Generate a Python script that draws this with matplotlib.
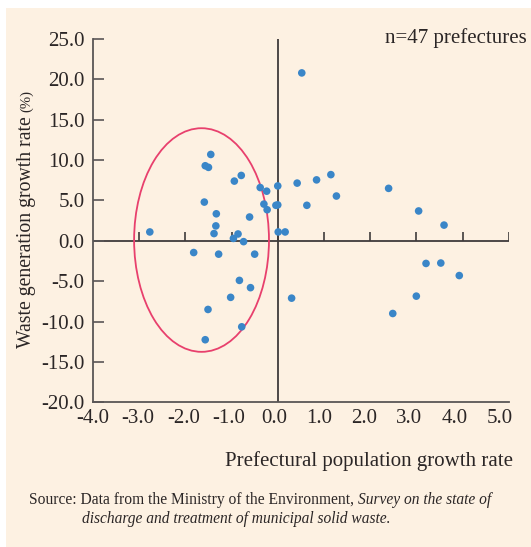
import matplotlib
matplotlib.use('Agg')
import matplotlib.pyplot as plt
import matplotlib.transforms as mtransforms
from matplotlib.patches import Ellipse, Rectangle

plt.rcParams['font.family'] = ['Liberation Serif', 'DejaVu Serif']

# data (population growth %, waste growth %)
pop = [-1.45, -1.57, -1.50, -0.79, -0.94, -0.38, -0.24, 0.00, 0.42, 0.63,
       -1.59, -1.33, -0.61, -0.30, -0.23, -0.04, 0.00, -2.77, -1.34, -1.38,
       -0.86, -0.96, -0.74, 0.01, 0.16, -1.82, -1.28, -0.50, -0.83, -0.59,
       -1.02, 0.30, -1.51, -0.78, -1.57, 0.52, 0.84, 1.15, 1.27, 2.40,
       3.05, 3.60, 3.21, 3.53, 3.93, 3.00, 2.49]
waste = [10.7, 9.3, 9.1, 8.1, 7.4, 6.6, 6.15, 6.8, 7.15, 4.4,
         4.8, 3.35, 2.95, 4.55, 3.85, 4.4, 4.45, 1.1, 1.85, 0.9,
         0.85, 0.3, -0.1, 1.1, 1.1, -1.45, -1.65, -1.65, -4.9, -5.8,
         -7.0, -7.1, -8.5, -10.65, -12.25, 20.8, 7.55, 8.2, 5.55, 6.5,
         3.7, 1.95, -2.8, -2.75, -4.3, -6.85, -9.0]
xticks = [-4.0, -3.0, -2.0, -1.0, 0.0, 1.0, 2.0, 3.0, 4.0, 5.0]
yticks = [-20.0, -15.0, -10.0, -5.0, 0.0, 5.0, 10.0, 15.0, 20.0, 25.0]

W, H = 531, 547
bg = '#fdf1e2'
txt = '#2b2626'
axc = '#5a5656'

fig = plt.figure(figsize=(W / 100, H / 100), dpi=100, facecolor='white')
fig.patches.append(Rectangle((6 / W, 0), 1, 1 - 8 / H, transform=fig.transFigure,
                             facecolor=bg, edgecolor='none', zorder=-10))

def fx(px):
    return px / W

def fy(py):
    return 1 - py / H

ax = fig.add_axes([fx(93), fy(402.3), fx(508.7) - fx(93), fy(39) - fy(402.3)])
ax.set_facecolor('none')
ax.set_xlim(-4, 5)
ax.set_ylim(-20, 25)

for s in ['top', 'right']:
    ax.spines[s].set_visible(False)
for s in ['left', 'bottom']:
    ax.spines[s].set_color(axc)
    ax.spines[s].set_linewidth(1.3)

ax.set_xticks(xticks)
ax.set_xticklabels([f'{v:.1f}' for v in xticks])
ax.set_yticks(yticks)
ax.set_yticklabels([f'{v:.1f}' for v in yticks])
ax.tick_params(axis='y', direction='in', length=8, width=1.2, color=axc,
               labelsize=15, labelcolor=txt, pad=6)
ax.tick_params(axis='x', length=0, labelsize=15, labelcolor=txt, pad=5)

# the printed x labels sit slightly left of their ticks, more so to the right
for v, lab in zip(xticks, ax.get_xticklabels()):
    off = mtransforms.ScaledTranslation(-(v + 4) / 100, 0, fig.dpi_scale_trans)
    lab.set_transform(lab.get_transform() + off)

# zero lines with ticks on the horizontal one
ax.axhline(0, color='#3f3b3b', lw=1.3, zorder=1)
ax.axvline(0, color='#3f3b3b', lw=1.3, zorder=1)
ax.vlines(xticks[1:], 0, 1.05, color='#3f3b3b', lw=1.2, zorder=1)

ax.scatter(pop, waste, s=30, color='#3a86c8', edgecolors='none', zorder=3)

ax.add_patch(Ellipse((-1.65, 0.1), 2.92, 27.7, facecolor='none',
                     edgecolor='#e8406d', lw=1.3, zorder=2))

fig.text(fx(527), fy(38), 'n=47 prefectures', fontsize=15, color=txt,
         ha='right', va='center')
fig.text(fx(513), fy(461), 'Prefectural population growth rate', fontsize=15,
         color=txt, ha='right', va='center')

fig.canvas.draw()
r = fig.canvas.get_renderer()

# y label with smaller (%)
yl = fig.text(fx(27), fy(348), 'Waste generation growth rate', fontsize=14.2,
              color=txt, rotation=90, rotation_mode='anchor', ha='left', va='center')
bb = yl.get_window_extent(r)
fig.text(fx(27), (bb.y1 + 4) / H, '(%)', fontsize=10.5, color=txt, rotation=90,
         rotation_mode='anchor', ha='left', va='center')

# source note
s1 = fig.text(fx(29), fy(500), 'Source: Data from the Ministry of the Environment, ',
              fontsize=11.2, color=txt, ha='left', va='center')
bb = s1.get_window_extent(r)
fig.text(bb.x1 / W, fy(500), 'Survey on the state of', fontsize=11.2, color=txt,
         style='italic', ha='left', va='center')
fig.text(fx(82), fy(519), 'discharge and treatment of municipal solid waste.',
         fontsize=11.2, color=txt, style='italic', ha='left', va='center')

fig.savefig('out.png', dpi=100, facecolor='white')
